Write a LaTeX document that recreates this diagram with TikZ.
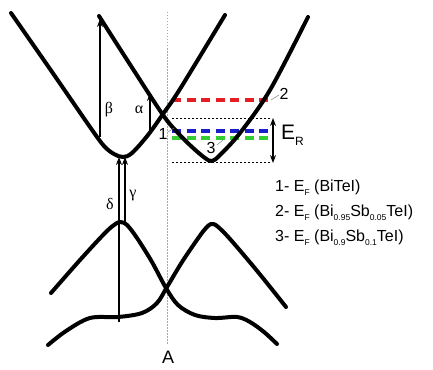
\documentclass[tikz,border=0pt]{standalone}
\usepackage{fontspec}
\setmainfont{Liberation Sans}
\newfontfamily\greekfont{Liberation Serif}
\usetikzlibrary{arrows.meta}
\definecolor{fred}{RGB}{228,30,36}
\definecolor{fblue}{RGB}{25,30,205}
\definecolor{fgreen}{RGB}{50,205,50}
\newcommand{\mysub}[1]{\raisebox{-4.5pt}{\fontsize{8.5}{8.5}\selectfont #1}}
\begin{document}
\begin{tikzpicture}[x=1pt,y=-1pt,
  band/.style={line width=4pt, line cap=round, line join=round},
  arr/.style={line width=1.1pt, -{Stealth[length=8pt,width=6pt]}},
  dbl/.style={{Stealth[length=8pt,width=6pt]}-{Stealth[length=8pt,width=6pt]}, line width=1.1pt},
  fermi/.style={line width=3.5pt, dash pattern=on 9pt off 5.5pt},
  guide/.style={line width=0.6pt, dash pattern=on 2pt off 2pt},
  leader/.style={gray, line width=0.5pt},
  lbl/.style={font=\fontsize{16}{16}\selectfont, inner sep=0},
  greek/.style={font=\greekfont\fontsize{16}{16}\selectfont, inner sep=0}]
\useasboundingbox (0,0) rectangle (433,369);
\fill[white] (0,0) rectangle (433,369);

% vertical dotted line at A
\coordinate (vt) at (167,12);
\coordinate (vb) at (167,345);
\draw[gray!70, line width=0.6pt, dash pattern=on 1.5pt off 1.5pt] (vt) -- (vb);
\node[font=\fontsize{18}{18}\selectfont, inner sep=0] (A) at (168,357) {A};

% guide lines
\coordinate (g1a) at (172,118); \coordinate (g1b) at (271,118);
\coordinate (g2a) at (172,162); \coordinate (g2b) at (271,162);
\draw[guide] (g1a) -- (g1b);
\draw[guide] (g2a) -- (g2b);

% fermi levels
\coordinate (ra) at (172,100); \coordinate (rb) at (271,100);
\coordinate (ba) at (172,131); \coordinate (bb) at (271,131);
\coordinate (ga) at (172,138); \coordinate (gb) at (271,138);
\draw[fermi, fred] (ra) -- (rb);
\draw[fermi, fblue] (ba) -- (bb);
\draw[fermi, fgreen] (ga) -- (gb);

% conduction bands
\draw[band] plot[smooth, tension=0.55] coordinates {(11,13) (50,69) (90,127) (104,146) (114,154) (123,157) (132,153) (148,135) (163,114) (180,89) (225,15)};
\draw[band] plot[smooth, tension=0.55] coordinates {(99,16) (131,66) (163,115) (178,133) (192,147) (205,158) (212,161) (220,155) (240,133) (270,90) (308,17)};

% valence bands
\draw[band] plot[smooth, tension=0.55] coordinates {(51,293) (80,260) (104,234) (114,225) (120,222) (127,225) (137,238) (152,262) (166,288) (178,305) (195,315) (215,318) (237,317) (250,322) (264,332) (277,344)};
\draw[band] plot[smooth, tension=0.55] coordinates {(48,345) (66,331) (90,318) (118,317) (142,313) (157,303) (167,287) (182,262) (199,237) (206,228) (211,224) (217,226) (230,239) (258,272) (286,307)};

% arrows
\coordinate (b0) at (100,137); \coordinate (b1) at (100,19);
\coordinate (a0) at (150,134); \coordinate (a1) at (150,93);
\coordinate (d0) at (119,322); \coordinate (d1) at (119,157);
\coordinate (c0) at (125,222); \coordinate (c1) at (125,157);
\draw[arr] (b0) -- (b1);
\draw[arr] (a0) -- (a1);
\draw[arr] (d0) -- (d1);
\draw[arr] (c0) -- (c1);
\coordinate (e0) at (273,118); \coordinate (e1) at (273,163);
\draw[dbl] (e0) -- (e1);

% greek labels
\node[greek] (beta) at (109,110) {β};
\node[greek] (alpha) at (139,110) {α};
\node[greek] (delta) at (110,204) {δ};
\node[greek] (gamma) at (133,196) {γ};

% number labels
\node[lbl] (n1) at (163,134) {1};
\node[lbl] (n2) at (284,94) {2};
\node[lbl] (n3) at (211,148) {3};
\coordinate (l1a) at (168,132); \coordinate (l1b) at (174,128);
\draw[leader] (l1a) -- (l1b);
\coordinate (l2a) at (271,100); \coordinate (l2b) at (279,95);
\draw[leader] (l2a) -- (l2b);
\coordinate (l3a) at (217,145); \coordinate (l3b) at (223,140);
\draw[leader] (l3a) -- (l3b);

% E_R
\node[inner sep=0, anchor=west] (ER) at (281,135) {\fontsize{21}{21}\selectfont E\raisebox{-6pt}{\fontsize{12}{12}\selectfont R}};

% legend
\node[lbl, anchor=base west] (L1) at (275,191) {1- E\mysub{F} (BiTeI)};
\node[lbl, anchor=base west] (L2) at (275,216) {2- E\mysub{F} (Bi\mysub{0.95}Sb\mysub{0.05}TeI)};
\node[lbl, anchor=base west] (L3) at (275,241) {3- E\mysub{F} (Bi\mysub{0.9}Sb\mysub{0.1}TeI)};
\end{tikzpicture}
\end{document}
